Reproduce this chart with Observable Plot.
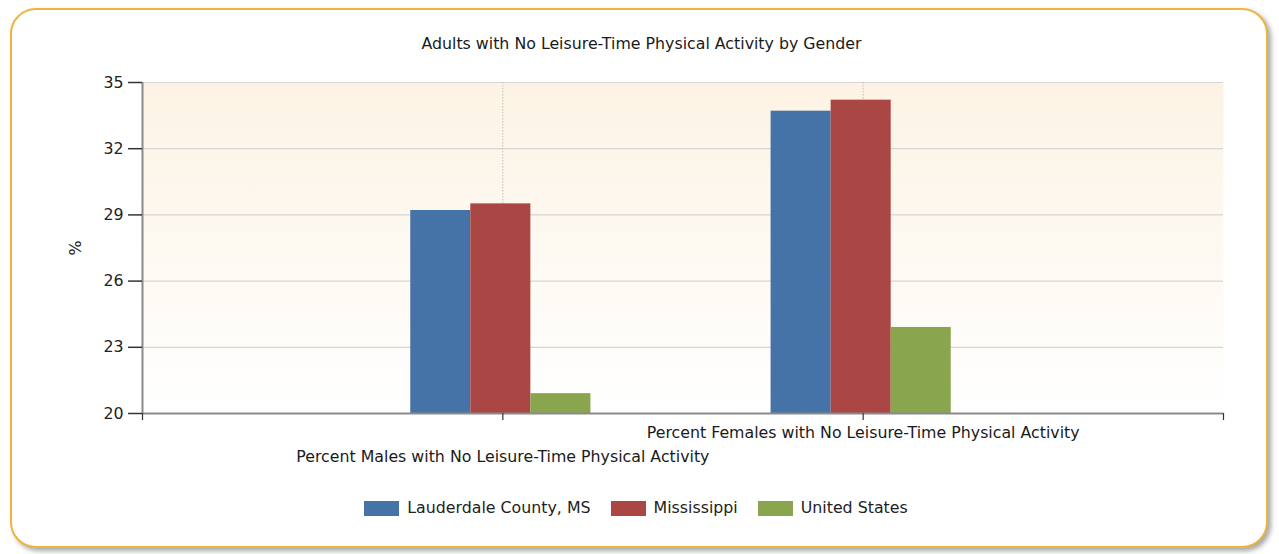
<!DOCTYPE html>
<html>
<head>
<meta charset="utf-8">
<script src="https://cdn.jsdelivr.net/npm/d3@7"></script>
<script src="https://cdn.jsdelivr.net/npm/@observablehq/plot@0.6"></script>
<style>
  html, body { margin: 0; padding: 0; background: #ffffff; }
  body { width: 1279px; height: 554px; position: relative; overflow: hidden;
         font-family: "DejaVu Sans", sans-serif; color: #222; }
  #card { position: absolute; left: 10px; top: 8px; width: 1254px; height: 536px;
          border: 2px solid #eeb440; border-radius: 26px; background: #fff;
          box-shadow: 3px 3px 5px rgba(0,0,0,0.35); }
  #title { position: absolute; left: 0; width: 1283px; top: 34px; text-align: center;
           font-size: 15.8px; line-height: 20px; color: #1a1a1a; }
  #chart { position: absolute; left: 0; top: 60px; }
  #legend { position: absolute; left: 0; width: 1272px; top: 498px; display: flex;
            justify-content: center; gap: 20px; font-size: 15.8px; line-height: 20px; }
  #legend .item { display: flex; align-items: center; }
  #legend .sw { width: 35px; height: 15px; margin-right: 8px; }
</style>
</head>
<body>
<div id="card"></div>
<div id="title">Adults with No Leisure-Time Physical Activity by Gender</div>
<div id="chart"></div>
<div id="legend"></div>
<script>
// Chart data
const categories = [
  "Percent Males with No Leisure-Time Physical Activity",
  "Percent Females with No Leisure-Time Physical Activity"
];
const seriesNames = ["Lauderdale County, MS", "Mississippi", "United States"];
const lauderdale = [29.2, 33.7];
const mississippi = [29.5, 34.2];
const unitedStates = [20.9, 23.9];
const yTicks = [20, 23, 26, 29, 32, 35];
const colors = ["#4572a7", "#aa4643", "#89a54e"];

// Flat table: one row per bar
const seriesValues = [lauderdale, mississippi, unitedStates];
const rows = [];
categories.forEach((cat, ci) => {
  seriesNames.forEach((s, si) => {
    rows.push({category: cat, ci, series: s, si, value: seriesValues[si][ci]});
  });
});

// Categories sit at x = 1 and x = 2 on a 0..3 axis; each bar is 1/6 unit wide
const barW = 1 / 6;
const left = d => d.ci + 1 + (d.si - 1.5) * barW;
const right = d => d.ci + 1 + (d.si - 0.5) * barW;

const font = "DejaVu Sans, sans-serif";

const chart = Plot.plot({
  width: 1279,
  height: 420,
  marginLeft: 142,
  marginRight: 56,
  marginTop: 22,
  marginBottom: 67,
  style: {background: "transparent", fontFamily: font, fontSize: "15.8px", color: "#222"},
  x: {type: "linear", domain: [0, 3]},
  y: {domain: [20, 35]},
  color: {domain: seriesNames, range: colors},
  marks: [
    Plot.frame({fill: "url(#plotBg)", stroke: "none"}),
    // horizontal grid
    Plot.ruleY(yTicks, {stroke: "#d6d6d6", strokeWidth: 1.2}),
    // vertical dotted grid at the categories
    Plot.ruleX([1, 2], {stroke: "#bfbfbf", strokeDasharray: "1.5,1.5", strokeWidth: 1}),
    Plot.rectY(rows, {x1: left, x2: right, y1: 20, y2: "value", fill: "series", dx: -2}),
    // axis lines
    Plot.ruleX([0], {stroke: "#8a8a8a", strokeWidth: 2}),
    Plot.ruleY([20], {stroke: "#8a8a8a", strokeWidth: 2}),
    Plot.axisY({ticks: yTicks, tickSize: 14, tickPadding: 5, stroke: "#333", strokeWidth: 1.5,
                fontSize: 15.8, fill: "#222", label: null}),
    Plot.axisX({ticks: [0, 1, 2, 3], tickSize: 7, tickFormat: () => "", stroke: "#333",
                strokeWidth: 1.2, label: null}),
    // staggered category labels
    Plot.text([categories[1]], {x: () => 2, y: () => 20, dy: 19, fontSize: 15.8, fill: "#1a1a1a"}),
    Plot.text([categories[0]], {x: () => 1, y: () => 20, dy: 43, fontSize: 15.8, fill: "#1a1a1a"}),
    // y axis title
    Plot.text(["%"], {x: () => 0, y: () => 27.5, dx: -67, rotate: -90, fontSize: 15.8, fill: "#222"})
  ]
});

// Soft vertical gradient behind the plot area
const svg = d3.select(chart);
const defs = svg.insert("defs", ":first-child");
const grad = defs.append("linearGradient").attr("id", "plotBg")
  .attr("x1", 0).attr("y1", 0).attr("x2", 0).attr("y2", 1);
grad.append("stop").attr("offset", "0%").attr("stop-color", "#fcf3e4");
grad.append("stop").attr("offset", "100%").attr("stop-color", "#ffffff");

document.getElementById("chart").appendChild(chart);

// Legend
const legend = d3.select("#legend");
seriesNames.forEach((s, i) => {
  const item = legend.append("div").attr("class", "item");
  item.append("div").attr("class", "sw").style("background", colors[i]);
  item.append("span").text(s);
});
</script>
</body>
</html>
